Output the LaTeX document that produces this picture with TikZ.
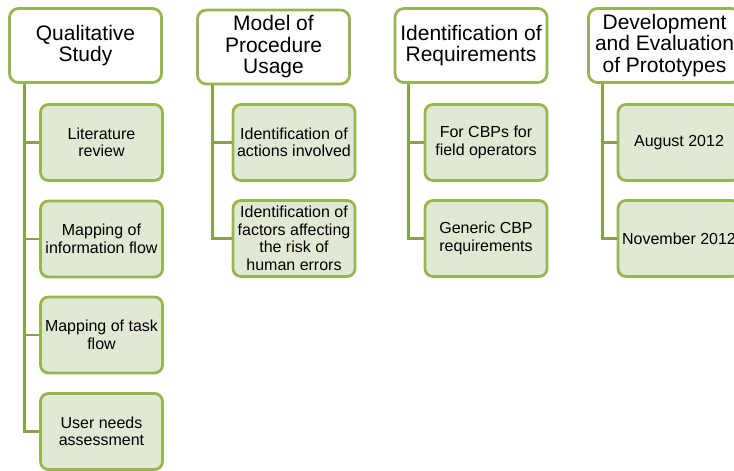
\documentclass[tikz,border=0pt]{standalone}
\usepackage{fontspec}
\setmainfont{Liberation Sans}
\definecolor{boxline}{RGB}{150,182,84}
\definecolor{linkline}{RGB}{134,162,74}
\definecolor{subfill}{RGB}{225,233,212}
\tikzset{
  phase/.style={draw=boxline, line width=2.8pt, fill=white, rounded corners=9pt,
    minimum width=152pt, minimum height=74pt, align=center, inner sep=0pt,
    font=\fontsize{21}{21.5}\selectfont},
  task/.style={draw=boxline, line width=2.8pt, fill=subfill, rounded corners=8pt,
    minimum width=122pt, minimum height=76pt, align=center, inner sep=0pt,
    font=\fontsize{16}{17.5}\selectfont},
  link/.style={draw=linkline, line width=2.8pt}
}
\begin{document}
\begin{tikzpicture}[x=1pt,y=-1pt]
\path[use as bounding box] (0,0) rectangle (734,471);
\clip (0,0) rectangle (734,471);

% column 1
\node[phase] (q) at (85.5,45.5) {Qualitative\\Study};
\node[task] (q1) at (101.5,142.5) {Literature\\review};
\node[task] (q2) at (101.5,239) {Mapping of\\information flow};
\node[task] (q3) at (101.5,335) {Mapping of task\\flow};
\node[task] (q4) at (101.5,431.5) {User needs\\assessment};

% column 2
\node[phase] (m) at (273.5,47) {Model of\\Procedure\\Usage};
\node[task] (m1) at (294,142.5) {Identification of\\actions involved};
\node[task] (m2) at (294,238.5) {Identification of\\factors affecting\\the risk of\\human errors};

% column 3
\node[phase] (r) at (471,45.5) {Identification of\\Requirements};
\node[task] (r1) at (486,142.5) {For CBPs for\\field operators};
\node[task] (r2) at (486,238.5) {Generic CBP\\requirements};

% column 4
\node[phase] (d) at (664.5,45.5) {Development\\and Evaluation\\of Prototypes};
\node[task] (d1) at (679,142.5) {August 2012};
\node[task] (d2) at (679,238.5) {November 2012};

% elbow connectors from each phase to its tasks
\foreach \p/\c in {q/q1,q/q2,q/q3,q/q4}
  \draw[link] ([xshift=16pt]\p.south west) |- (\c.west);
\foreach \p/\c in {m/m1,m/m2}
  \draw[link] ([xshift=16pt]\p.south west) |- (\c.west);
\foreach \p/\c in {r/r1,r/r2}
  \draw[link] ([xshift=15pt]\p.south west) |- (\c.west);
\foreach \p/\c in {d/d1,d/d2}
  \draw[link] ([xshift=15pt]\p.south west) |- (\c.west);
\end{tikzpicture}
\end{document}
